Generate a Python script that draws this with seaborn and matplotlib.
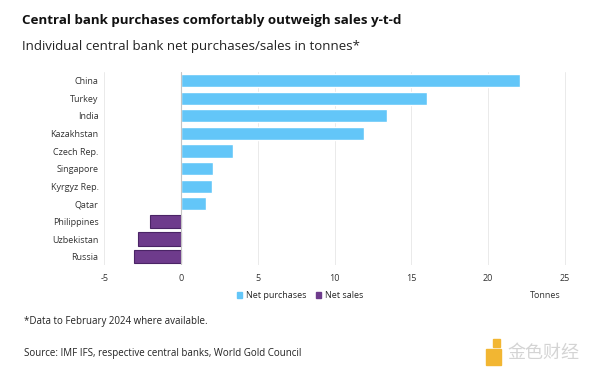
import pandas as pd
import matplotlib.pyplot as plt
import seaborn as sns

countries = ["China", "Turkey", "India", "Kazakhstan", "Czech Rep.", "Singapore",
             "Kyrgyz Rep.", "Qatar", "Philippines", "Uzbekistan", "Russia"]
tonnes = [22.1, 16.0, 13.4, 11.9, 3.4, 2.1, 2.0, 1.6, -2.0, -2.8, -3.1]
x_ticks = [-5, 0, 5, 10, 15, 20, 25]

df = pd.DataFrame({"country": countries, "tonnes": tonnes})
df["kind"] = ["Net purchases" if v > 0 else "Net sales" for v in df["tonnes"]]

sns.set_theme(style="white")
plt.rcParams["font.family"] = ["Open Sans", "Noto Sans CJK SC", "DejaVu Sans"]

fig = plt.figure(figsize=(6, 3.76), dpi=100)
ax = fig.add_axes([0.169, 0.294, 0.785, 0.515])

palette = {"Net purchases": "#63C6F8", "Net sales": "#6E3B8C"}
sns.barplot(data=df, x="tonnes", y="country", hue="kind", palette=palette,
            dodge=False, width=0.75, ax=ax, legend=False, saturation=1)
for p, k in zip(ax.patches, df["kind"]):
    if k == "Net sales":
        p.set_edgecolor("#4A2466")
        p.set_linewidth(0.8)

ax.set_xlim(-5.2, 25.5)
ax.set_xticks(x_ticks)
ax.set_xticklabels([str(t) for t in x_ticks], fontsize=6.5, color="#333333")
ax.tick_params(axis="y", labelsize=6.5, labelcolor="#333333", length=0, pad=2)
ax.tick_params(axis="x", length=0, pad=6)
ax.set_xlabel("")
ax.set_ylabel("")
for t in x_ticks:
    if t != 0:
        ax.axvline(t, color="#E6E6E6", lw=0.6, zorder=0)
ax.axvline(0, color="#C4C4C4", lw=0.8, zorder=3)
for s in ax.spines.values():
    s.set_visible(False)

# legend
handles = [plt.Rectangle((0, 0), 1, 1, color=palette["Net purchases"]),
           plt.Rectangle((0, 0), 1, 1, color=palette["Net sales"])]
fig.legend(handles, ["Net purchases", "Net sales"], loc="center",
           bbox_to_anchor=(0.5, 0.213), ncol=2, frameon=False, fontsize=6.5,
           handlelength=0.6, handleheight=0.6, handletextpad=0.4, columnspacing=1.0)
fig.text(0.908, 0.213, "Tonnes", fontsize=6.5, color="#333333", ha="center", va="center")

fig.text(0.037, 0.945, "Central bank purchases comfortably outweigh sales y-t-d",
         fontsize=9.6, fontweight="bold", color="#111111", va="center")
fig.text(0.037, 0.877, "Individual central bank net purchases/sales in tonnes*",
         fontsize=9.5, color="#222222", va="center")
fig.text(0.04, 0.146, "*Data to February 2024 where available.", fontsize=7,
         color="#222222", va="center")
fig.text(0.04, 0.06, "Source: IMF IFS, respective central banks, World Gold Council",
         fontsize=7, color="#222222", va="center")
fig.text(0.845, 0.062, "金色财经", fontsize=13, color="#D4D4D4", va="center",
         family=["Noto Sans CJK SC", "DejaVu Sans"])
fig.patches.append(plt.Rectangle((0.81, 0.03), 0.025, 0.042, color="#F2B632",
                                 transform=fig.transFigure, figure=fig))
fig.patches.append(plt.Rectangle((0.822, 0.078), 0.012, 0.02, color="#F2B632",
                                 transform=fig.transFigure, figure=fig))

fig.savefig("out.png", dpi=100)
